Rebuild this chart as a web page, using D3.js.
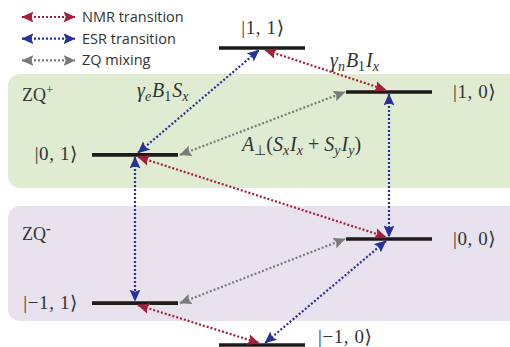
<!DOCTYPE html>
<html>
<head>
<meta charset="utf-8">
<script src="https://cdn.jsdelivr.net/npm/d3@7"></script>
<style>
  body { margin: 0; background: #fff; }
  svg text { fill: #333; }
</style>
</head>
<body>
<div id="chart"></div>
<script>
// energy levels: label, column (m_s-like layout), energy (arbitrary units)
const levelNames = ["|1, 1\u27E9", "|1, 0\u27E9", "|0, 1\u27E9", "|0, 0\u27E9", "|\u22121, 1\u27E9", "|\u22121, 0\u27E9"];
const levelColumns = [1, 2, 0, 2, 0, 1];
const levelEnergies = [100, 85.2, 64, 35.7, 14.1, 0];

// transitions between levels (indices into the arrays above)
const transFrom = [2, 2, 1, 3, 0, 2, 4, 2, 4];
const transTo   = [0, 4, 3, 5, 1, 3, 5, 1, 3];
const transType = ["ESR", "ESR", "ESR", "ESR", "NMR", "NMR", "NMR", "ZQ", "ZQ"];

const legendTypes = ["NMR", "ESR", "ZQ"];
const legendLabels = ["NMR transition", "ESR transition", "ZQ mixing"];

const width = 510, height = 347;
const color = d3.scaleOrdinal()
    .domain(["NMR", "ESR", "ZQ"])
    .range(["#a3203d", "#2b2f98", "#7a7a7a"]);

const x = d3.scaleLinear().domain([0, 2]).range([135, 389]);
const y = d3.scaleLinear().domain([0, 100]).range([345, 48]);
const half = 43;

let svg = d3.select("#chart")
    .append("svg")
    .attr("width", width)
    .attr("height", height);

// arrow markers, one per colour
let defs = svg.append("defs");
color.domain().forEach(function (t) {
    defs.append("marker")
        .attr("id", "arr-" + t)
        .attr("markerUnits", "userSpaceOnUse")
        .attr("markerWidth", 12)
        .attr("markerHeight", 12)
        .attr("viewBox", "0 0 11 10")
        .attr("refX", 10.5)
        .attr("refY", 5)
        .attr("orient", "auto-start-reverse")
        .append("path")
        .attr("d", "M0,0 L11,5 L0,10 L2,5 z")
        .attr("fill", color(t));
});

// ZQ+ / ZQ- background boxes
svg.append("rect")
    .attr("x", 8).attr("y", 74)
    .attr("width", 515).attr("height", 114)
    .attr("rx", 12)
    .attr("fill", "#dfecd2");
svg.append("rect")
    .attr("x", 8).attr("y", 206)
    .attr("width", 515).attr("height", 115)
    .attr("rx", 12)
    .attr("fill", "#e7e2ee");

svg.append("text").attr("x", 22).attr("y", 101)
    .style("font", "18px 'Liberation Serif', serif")
    .html("ZQ<tspan dy='-7' font-size='13'>+</tspan>");
svg.append("text").attr("x", 22).attr("y", 240)
    .style("font", "18px 'Liberation Serif', serif")
    .html("ZQ<tspan dy='-7' font-size='14' font-weight='bold'>-</tspan>");

// level bars
const levels = levelNames.map(function (n, i) {
    return { name: n, col: levelColumns[i], e: levelEnergies[i] };
});

svg.selectAll(".level")
    .data(levels)
    .enter()
    .append("line")
    .attr("class", "level")
    .attr("x1", d => x(d.col) - half)
    .attr("x2", d => x(d.col) + half)
    .attr("y1", d => y(d.e))
    .attr("y2", d => y(d.e))
    .attr("stroke", "#1d1a1a")
    .attr("stroke-width", 3.6);

// transitions
const trans = transFrom.map(function (f, i) {
    let a = levels[f], b = levels[transTo[i]], t = transType[i];
    let x1, x2, y1 = y(a.e), y2 = y(b.e);
    if (t === "ZQ") {
        // from right end of left bar to left end of right bar
        x1 = x(a.col) + half + 2;
        x2 = x(b.col) - half - 1;
    } else {
        let dx = b.col === a.col ? 0 : (b.col > a.col ? 3 : -3);
        x1 = x(a.col) + dx;
        x2 = x(b.col) - dx;
        y1 += (b.e > a.e ? -2 : 2);
        y2 += (b.e > a.e ? 2 : -2);
    }
    return { t: t, x1: x1, y1: y1, x2: x2, y2: y2 };
});

svg.selectAll(".trans")
    .data(trans)
    .enter()
    .append("line")
    .attr("class", "trans")
    .attr("x1", d => d.x1).attr("y1", d => d.y1)
    .attr("x2", d => d.x2).attr("y2", d => d.y2)
    .attr("stroke", d => color(d.t))
    .attr("stroke-width", 2.2)
    .attr("stroke-dasharray", "2,2")
    .attr("marker-start", d => "url(#arr-" + d.t + ")")
    .attr("marker-end", d => "url(#arr-" + d.t + ")");

// level labels
const labelPos = [
    { x: 263, y: 34, a: "middle" },
    { x: 453, y: 98, a: "start" },
    { x: 78, y: 160, a: "end" },
    { x: 453, y: 245, a: "start" },
    { x: 78, y: 309, a: "end" },
    { x: 318, y: 343, a: "start" }
];
svg.selectAll(".lbl")
    .data(levels)
    .enter()
    .append("text")
    .attr("class", "lbl")
    .attr("x", (d, i) => labelPos[i].x)
    .attr("y", (d, i) => labelPos[i].y)
    .attr("text-anchor", (d, i) => labelPos[i].a)
    .style("font", "19px 'Liberation Serif', 'DejaVu Serif', serif")
    .style("letter-spacing", "0.6px")
    .text(d => d.name);

// coupling terms
const mathFont = "italic 20px 'Liberation Serif', serif";
svg.append("text").attr("x", 137).attr("y", 97).style("font", mathFont)
    .html("\u03B3<tspan dy='4' font-size='14'>e</tspan><tspan dy='-4' dx='1'>B</tspan><tspan dy='4' font-size='14' font-style='normal'>1</tspan><tspan dy='-4' dx='1'>S</tspan><tspan dy='4' font-size='14'>x</tspan>");
svg.append("text").attr("x", 330).attr("y", 67).style("font", mathFont)
    .html("\u03B3<tspan dy='4' font-size='14'>n</tspan><tspan dy='-4' dx='1'>B</tspan><tspan dy='4' font-size='14' font-style='normal'>1</tspan><tspan dy='-4' dx='1'>I</tspan><tspan dy='4' font-size='14'>x</tspan>");
svg.append("text").attr("x", 242).attr("y", 151).style("font", mathFont)
    .html("A<tspan dy='4' font-size='14' font-style='normal'>\u22A5</tspan><tspan dy='-4' font-style='normal'>(</tspan>S<tspan dy='4' font-size='14'>x</tspan><tspan dy='-4' dx='1'>I</tspan><tspan dy='4' font-size='14'>x</tspan><tspan dy='-4' font-style='normal'> + </tspan>S<tspan dy='4' font-size='14'>y</tspan><tspan dy='-4' dx='1'>I</tspan><tspan dy='4' font-size='14'>y</tspan><tspan dy='-4' font-style='normal'>)</tspan>");

// legend
let legend = svg.selectAll(".leg")
    .data(legendTypes)
    .enter()
    .append("g")
    .attr("class", "leg")
    .attr("transform", (d, i) => "translate(0," + (17 + i * 21.7) + ")");

legend.append("line")
    .attr("x1", 22).attr("x2", 75)
    .attr("stroke", d => color(d))
    .attr("stroke-width", 2.2)
    .attr("stroke-dasharray", "2,2")
    .attr("marker-start", d => "url(#arr-" + d + ")")
    .attr("marker-end", d => "url(#arr-" + d + ")");

legend.append("text")
    .attr("x", 82)
    .attr("dy", "0.35em")
    .style("font", "14.5px 'Open Sans', sans-serif")
    .text((d, i) => legendLabels[i]);
</script>
</body>
</html>
